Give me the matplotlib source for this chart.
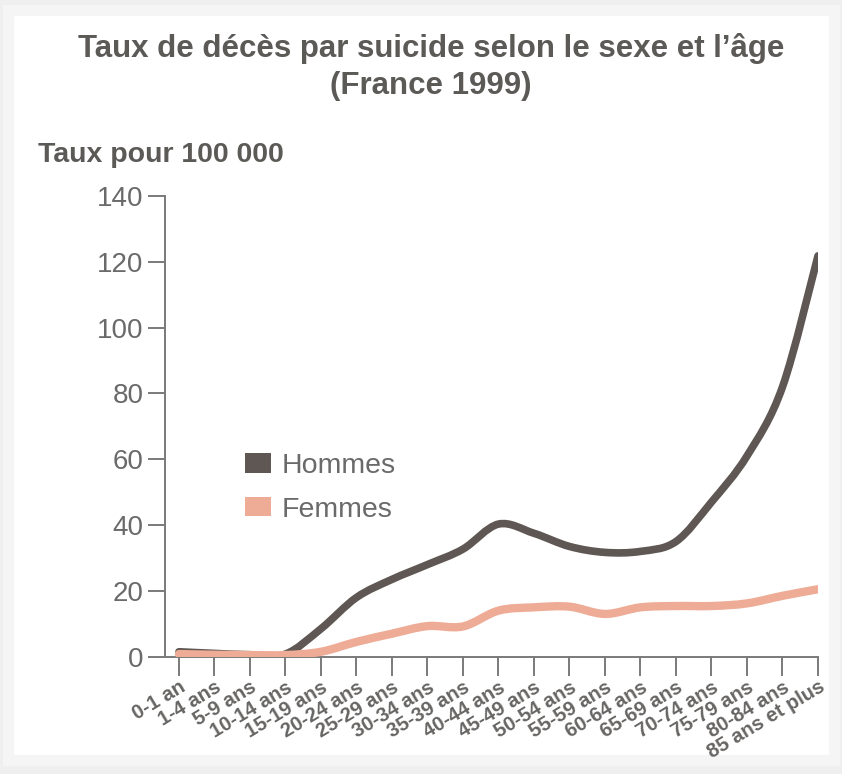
import matplotlib
matplotlib.use("Agg")
import matplotlib.pyplot as plt
from matplotlib.patches import Patch, Rectangle, PathPatch
from matplotlib.path import Path

categories = ["0-1 an", "1-4 ans", "5-9 ans", "10-14 ans", "15-19 ans", "20-24 ans",
              "25-29 ans", "30-34 ans", "35-39 ans", "40-44 ans", "45-49 ans",
              "50-54 ans", "55-59 ans", "60-64 ans", "65-69 ans", "70-74 ans",
              "75-79 ans", "80-84 ans", "85 ans et plus"]
hommes = [1.5, 1.0, 0.6, 0.8, 8.5, 18.0, 23.5, 28.0, 32.7, 40.3, 37.5, 33.5,
          31.7, 32.0, 35.0, 47.0, 61.0, 82.0, 121.8]
femmes = [0.8, 0.6, 0.5, 0.5, 1.5, 4.5, 7.0, 9.3, 9.2, 14.0, 15.0, 15.2,
          13.0, 15.0, 15.4, 15.4, 16.2, 18.5, 20.5]
yticks = [0, 20, 40, 60, 80, 100, 120, 140]

title = "Taux de décès par suicide selon le sexe et l’âge\n(France 1999)"
ylabel = "Taux pour 100 000"

c_h = "#5f5753"
c_f = "#eeab95"
c_txt = "#5c5a57"
c_axis = "#7a7a7a"

plt.rcParams['font.family'] = ['Liberation Sans', 'DejaVu Sans']


def smooth_path(xs, ys, tension=0.5):
    """Catmull-Rom curve through the data points, as cubic Bezier segments."""
    verts = [(xs[0], ys[0])]
    codes = [Path.MOVETO]
    n = len(xs)
    for i in range(n - 1):
        x0, y0 = (xs[i - 1], ys[i - 1]) if i > 0 else (xs[i], ys[i])
        x1, y1 = xs[i], ys[i]
        x2, y2 = xs[i + 1], ys[i + 1]
        x3, y3 = (xs[i + 2], ys[i + 2]) if i + 2 < n else (x2, y2)
        k = tension / 3.0
        c1 = (x1 + (x2 - x0) * k, y1 + (y2 - y0) * k)
        c2 = (x2 - (x3 - x1) * k, y2 - (y3 - y1) * k)
        verts += [c1, c2, (x2, y2)]
        codes += [Path.CURVE4] * 3
    return Path(verts, codes)


W, H = 842, 774
fig = plt.figure(figsize=(W / 100, H / 100), dpi=100)
fig.patch.set_facecolor("#efefef")
fig.add_artist(Rectangle((8 / W, 14 / H), (W - 16) / W, (H - 24) / H,
                         transform=fig.transFigure, facecolor="white",
                         edgecolor="#f5f5f5", lw=8, zorder=-10))

left, right = 165 / W, 818 / W
bottom, top = 1 - 656.7 / H, 1 - 196 / H
ax = fig.add_axes([left, bottom, right - left, top - bottom])
ax.set_facecolor("none")

x = list(range(len(categories)))
ax.add_patch(PathPatch(smooth_path(x, femmes), facecolor="none", edgecolor=c_f,
                       lw=6, capstyle="round", joinstyle="round", zorder=3))
ax.add_patch(PathPatch(smooth_path(x, hommes), facecolor="none", edgecolor=c_h,
                       lw=5.5, capstyle="round", joinstyle="round", zorder=2))

ax.set_xlim(-0.394, len(categories) - 1)
ax.set_ylim(0, 140)
ax.set_yticks(yticks)
ax.set_xticks(x)
ax.set_xticklabels(categories, rotation=31, ha="right", rotation_mode="anchor",
                   fontsize=14.5, fontweight="bold", color="#676563")
ax.tick_params(axis="y", length=12, width=1.4, color=c_axis, pad=3.5,
               labelsize=20, labelcolor="#6a6a6a")
ax.tick_params(axis="x", length=14, width=1.4, color=c_axis, pad=1)
for s in ["top", "right"]:
    ax.spines[s].set_visible(False)
for s in ["left", "bottom"]:
    ax.spines[s].set_color(c_axis)
    ax.spines[s].set_linewidth(1.4)

fig.text(431 / W, 1 - 67 / H, title, ha="center", va="center", fontsize=22.5,
         fontweight="bold", color=c_txt, linespacing=1.3)
fig.text(38 / W, 1 - 155 / H, ylabel, ha="left", va="center", fontsize=20.5,
         fontweight="bold", color=c_txt)

handles = [Patch(facecolor=c_h, edgecolor="none", label="Hommes"),
           Patch(facecolor=c_f, edgecolor="none", label="Femmes")]
leg = ax.legend(handles=handles, loc="upper left",
                bbox_to_anchor=(245 / W, 1 - 453 / H), bbox_transform=fig.transFigure,
                frameon=False, fontsize=20.5, handlelength=0.92, handleheight=0.68,
                handletextpad=0.35, labelspacing=0.62, borderpad=0, borderaxespad=0)
for t in leg.get_texts():
    t.set_color("#6a6a6a")

fig.savefig("out.png", dpi=100, facecolor=fig.get_facecolor())
